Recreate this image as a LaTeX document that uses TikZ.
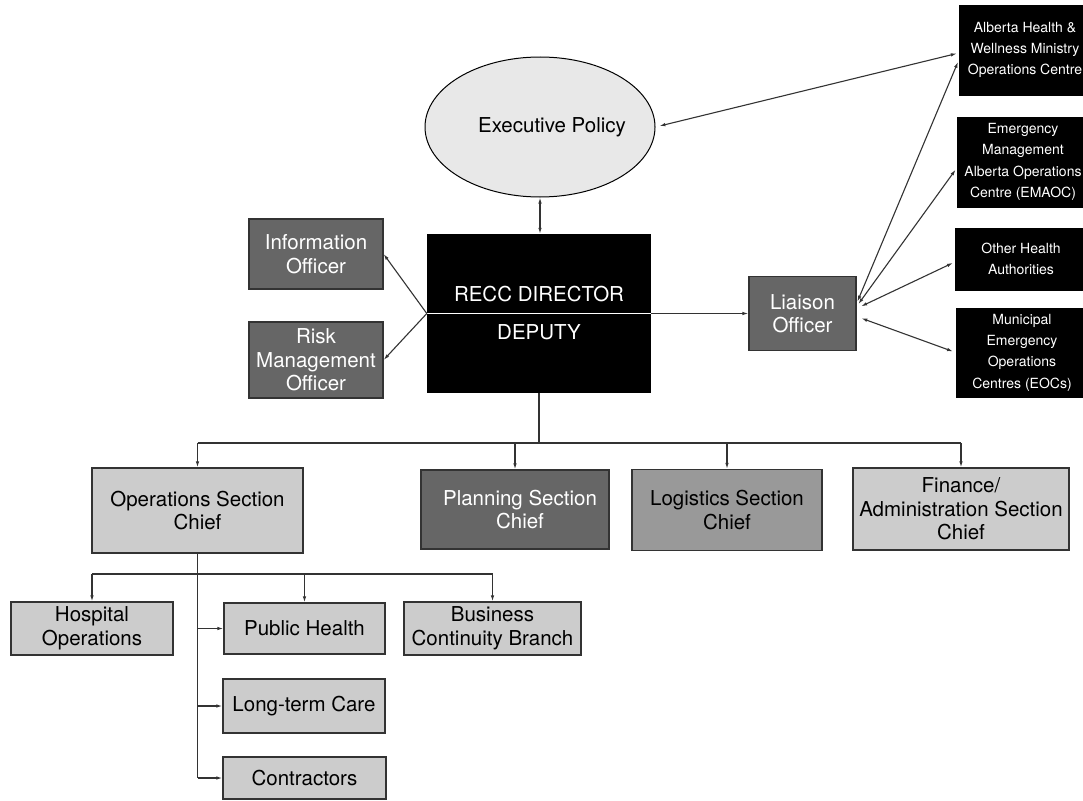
\documentclass[tikz,border=0pt]{standalone}
\usepackage{fontspec}
\setmainfont{TeX Gyre Heros}
\usetikzlibrary{shapes.geometric,arrows.meta}
\definecolor{darkbox}{HTML}{666666}
\definecolor{midbox}{HTML}{999999}
\definecolor{lightbox}{HTML}{CCCCCC}
\definecolor{policyfill}{HTML}{E8E8E8}
\definecolor{edge}{HTML}{333333}
\begin{document}
\begin{tikzpicture}[x=1pt,y=-1pt,
  >={Latex[length=6pt,width=3.5pt]},
  box/.style={draw=edge,line width=1.2pt,inner sep=1pt,align=center,font=\fontsize{20.5}{23.5}\selectfont},
  darkunit/.style={box,fill=darkbox,text=white},
  midunit/.style={box,fill=midbox},
  lightunit/.style={box,fill=lightbox},
  partner/.style={draw=black,fill=black,text=white,inner sep=1pt,align=center,minimum width=132pt,font=\fontsize{14}{21.3}\selectfont},
  link/.style={draw=edge,line width=1.1pt}]
\useasboundingbox (0,0) rectangle (1083,800);
\fill[white] (0,0) rectangle (1083,800);

\node[ellipse,draw=black,fill=policyfill,line width=1pt,minimum width=230pt,minimum height=140pt,inner sep=0pt,
  label={[xshift=12pt,font=\fontsize{20.5}{23.5}\selectfont]center:Executive Policy}] (policy) at (540,127) {};
\node[fill=black,text=white,minimum width=224pt,minimum height=159pt,align=center,
  font=\fontsize{20.5}{23.5}\selectfont] (director) at (539,313.5) {RECC DIRECTOR\\[14.5pt]DEPUTY};
\node[darkunit,minimum width=134pt,minimum height=70pt] (info) at (316,254) {Information\\Officer};
\node[darkunit,minimum width=134pt,minimum height=76pt] (risk) at (316,360) {Risk\\Management\\Officer};
\node[darkunit,minimum width=107pt,minimum height=74pt] (liaison) at (802.5,313.5) {Liaison\\Officer};

\node[partner,minimum height=90pt] (ahw) at (1025,50) {Alberta Health \&\\Wellness Ministry\\Operations Centre};
\node[partner,minimum height=90pt] (emaoc) at (1023,162) {Emergency\\Management\\Alberta Operations\\Centre (EMAOC)};
\node[partner,minimum height=62pt] (other) at (1021,259) {Other Health\\Authorities};
\node[partner,minimum height=89pt] (municipal) at (1022,352.5) {Municipal\\Emergency\\Operations\\Centres (EOCs)};

\node[lightunit,minimum width=211pt,minimum height=85pt] (ops) at (197.5,510.5) {Operations Section\\Chief};
\node[darkunit,minimum width=188pt,minimum height=79pt] (planning) at (515,509.5) {\hspace*{10pt}Planning Section\\\hspace*{10pt}Chief};
\node[midunit,minimum width=190pt,minimum height=81pt] (logistics) at (727,510) {Logistics Section\\Chief};
\node[lightunit,minimum width=216pt,minimum height=82pt] (finance) at (961,509) {Finance/\\Administration Section\\Chief};

\node[lightunit,minimum width=162pt,minimum height=53pt] (hospital) at (92,628.5) {Hospital\\Operations};
\node[lightunit,minimum width=161pt,minimum height=51pt] (publichealth) at (304.5,628.5) {Public Health};
\node[lightunit,minimum width=162pt,minimum height=54pt] (longterm) at (304,706) {Long-term Care};
\node[lightunit,minimum width=163pt,minimum height=42pt] (contractors) at (304.5,778) {Contractors};
\node[lightunit,minimum width=177pt,minimum height=53pt] (business) at (492.5,628.5) {Business\\Continuity Branch};

\draw[link,<->] (policy.south) -- (policy.south |- director.north);
\draw[white,line width=1.2pt] (director.west) -- (director.east);
\draw[link,->] (director.west) -- (info.east);
\draw[link,->] (director.west) -- (risk.east);
\draw[link,->] (director.east) -- (liaison.west);

\draw[link,<->,shorten <=4pt,shorten >=2pt] (policy.east) -- ([yshift=-3pt]ahw.west);
\draw[link,<->,shorten <=2pt,shorten >=2pt] ([yshift=10pt]liaison.east) -- ([yshift=-10pt]ahw.west);
\draw[link,<->,shorten <=3pt,shorten >=2pt] ([yshift=7pt]liaison.east) -- ([yshift=-6pt]emaoc.west);
\draw[link,<->,shorten <=5pt,shorten >=2pt] ([yshift=5pt]liaison.east) -- ([yshift=-3pt]other.west);
\draw[link,<->,shorten <=5pt,shorten >=3pt] ([yshift=-3pt]liaison.east) -- (municipal.west);

\coordinate (bus) at (540,443);
\coordinate (subbus) at (199,574);
\draw[link] (director.south) -- (director.south |- bus);
\draw[link] (ops.north |- bus) -- (finance.north |- bus);
\foreach \unit in {ops,planning,logistics,finance}
  \draw[link,->] (\unit.north |- bus) -- (\unit.north);
\draw[link] (hospital.north |- subbus) -- (business.north |- subbus);
\foreach \unit in {hospital,publichealth,business}
  \draw[link,->] (\unit.north |- subbus) -- (\unit.north);
\draw[link] (ops.south) -- (ops.south |- contractors.west);
\foreach \unit in {publichealth,longterm,contractors}
  \draw[link,->] (ops.south |- \unit.west) -- (\unit.west);
\end{tikzpicture}
\end{document}
